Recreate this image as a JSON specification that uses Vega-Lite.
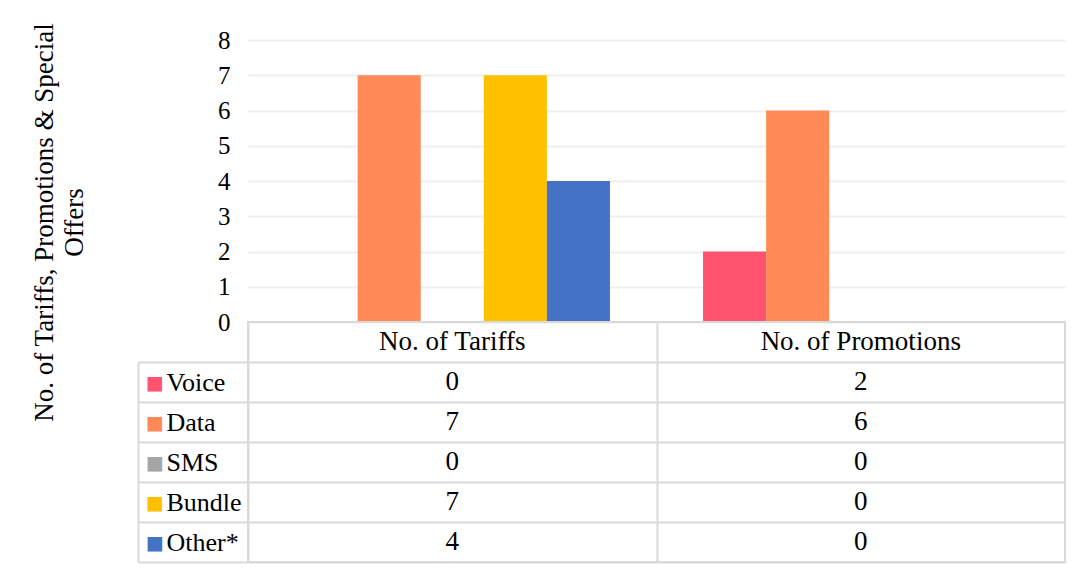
{
  "$schema": "https://vega.github.io/schema/vega-lite/v6.json",
  "padding": {"left": 29, "top": 22, "right": 5, "bottom": 5},
  "spacing": 0,
  "bounds": "flush",
  "config": {
    "view": {"stroke": "#d9d9d9", "strokeWidth": 2},
    "font": "Liberation Serif, DejaVu Serif, serif",
    "text": {"font": "Liberation Serif, DejaVu Serif, serif"}
  },
  "datasets": {
    "t": [
      {"metric": "No. of Tariffs", "series": "Voice", "value": 0},
      {"metric": "No. of Tariffs", "series": "Data", "value": 7},
      {"metric": "No. of Tariffs", "series": "SMS", "value": 0},
      {"metric": "No. of Tariffs", "series": "Bundle", "value": 7},
      {"metric": "No. of Tariffs", "series": "Other*", "value": 4},
      {"metric": "No. of Promotions", "series": "Voice", "value": 2},
      {"metric": "No. of Promotions", "series": "Data", "value": 6},
      {"metric": "No. of Promotions", "series": "SMS", "value": 0},
      {"metric": "No. of Promotions", "series": "Bundle", "value": 0},
      {"metric": "No. of Promotions", "series": "Other*", "value": 0}
    ]
  },
  "vconcat": [
    {
      "width": 817,
      "height": 282,
      "view": {"stroke": null},
      "data": {"name": "t"},
      "mark": {"type": "bar"},
      "encoding": {
        "x": {"field": "metric", "type": "nominal", "scale": {"domain": ["No. of Tariffs", "No. of Promotions"], "paddingInner": 0, "paddingOuter": 0}, "axis": null},
        "xOffset": {"field": "series", "type": "nominal", "scale": {"domain": ["Voice", "Data", "SMS", "Bundle", "Other*"], "paddingInner": 0, "paddingOuter": 0.738}},
        "y": {
          "field": "value", "type": "quantitative",
          "scale": {"domain": [0, 8], "nice": false},
          "axis": {
            "values": [0, 1, 2, 3, 4, 5, 6, 7, 8],
            "grid": true, "gridColor": "#efefef", "gridWidth": 2,
            "domain": false, "ticks": false,
            "labelFont": "Liberation Serif, DejaVu Serif, serif", "labelFontSize": 25, "labelColor": "#000000", "labelPadding": 18,
            "title": ["No. of Tariffs, Promotions & Special", "Offers"],
            "titleFont": "Liberation Serif, DejaVu Serif, serif", "titleFontSize": 27, "titleFontWeight": "normal", "titleColor": "#000000",
            "titleX": -196, "titleY": 182, "titleBaseline": "alphabetic", "titleLineHeight": 30
          }
        },
        "color": {"field": "series", "type": "nominal", "scale": {"domain": ["Voice", "Data", "SMS", "Bundle", "Other*"], "range": ["#FF5470", "#FF8A57", "#A5A5A5", "#FFC000", "#4472C4"]}, "legend": null}
      }
    },
    {
      "width": 817,
      "height": 240,
      "data": {"name": "t"},
      "encoding": {
        "x": {"field": "metric", "type": "nominal", "scale": {"domain": ["No. of Tariffs", "No. of Promotions"], "paddingInner": 0, "paddingOuter": 0},
          "axis": {"grid": true, "tickOffset": -204, "gridColor": "#d9d9d9", "gridWidth": 2, "labels": false, "ticks": false, "domain": false, "title": null}}
      },
      "layer": [
        {
          "mark": {"type": "text", "fontSize": 27, "font": "Liberation Serif, DejaVu Serif, serif", "color": "#000000"},
          "encoding": {
            "y": {"field": "series", "type": "nominal", "scale": {"domain": ["hdr", "Voice", "Data", "SMS", "Bundle", "Other*"], "paddingInner": 0, "paddingOuter": 0},
              "axis": {"orient": "left", "title": null, "ticks": false, "tickSize": 0, "domain": false, "grid": false,
                "labelExpr": "datum.value === 'hdr' ? '' : datum.value", "labelAlign": "left", "labelPadding": 82,
                "labelFont": "Liberation Serif, DejaVu Serif, serif", "labelFontSize": 26, "labelColor": "#000000", "labelBaseline": "middle"}},
            "text": {"field": "value", "type": "quantitative"}
          }
        },
        {
          "mark": {"type": "text", "fontSize": 25},
          "encoding": {
            "y": {"field": "series", "type": "nominal", "scale": {"domain": ["hdr", "Voice", "Data", "SMS", "Bundle", "Other*"], "paddingInner": 0, "paddingOuter": 0},
              "axis": {"orient": "left", "title": null, "ticks": false, "tickSize": 0, "domain": false, "grid": false,
                "labelExpr": "datum.value === 'hdr' ? '' : '■'", "labelAlign": "center", "labelPadding": 93.5,
                "labelFont": "DejaVu Sans", "labelFontSize": 19, "labelBaseline": "middle",
                "labelColor": {"condition": [
                  {"test": "datum.value === 'Voice'", "value": "#FF5470"},
                  {"test": "datum.value === 'Data'", "value": "#FF8A57"},
                  {"test": "datum.value === 'SMS'", "value": "#A5A5A5"},
                  {"test": "datum.value === 'Bundle'", "value": "#FFC000"}
                ], "value": "#4472C4"}}},
            "text": {"value": ""}
          }
        },
        {
          "mark": {"type": "text", "fontSize": 25},
          "encoding": {
            "y": {"field": "series", "type": "nominal", "scale": {"domain": ["hdr", "Voice", "Data", "SMS", "Bundle", "Other*"], "paddingInner": 0, "paddingOuter": 0},
              "axis": {"orient": "left", "title": null, "tickOffset": 20, "ticks": true, "tickSize": 110, "tickColor": "#d9d9d9", "tickWidth": 2,
                "grid": true, "gridColor": "#d9d9d9", "gridWidth": 2, "labels": false, "domain": false}},
            "text": {"value": ""}
          }
        },
        {
          "mark": {"type": "text", "fontSize": 25},
          "encoding": {
            "y": {"field": "series", "type": "nominal", "scale": {"domain": ["hdr", "Voice", "Data", "SMS", "Bundle", "Other*"], "paddingInner": 0, "paddingOuter": 0},
              "axis": {"orient": "left", "title": null, "offset": 110, "ticks": false, "labels": false, "grid": false,
                "domain": true, "domainColor": "#d9d9d9", "domainWidth": 2, "domainDash": [0, 40, 200]}},
            "text": {"value": ""}
          }
        },
        {
          "transform": [{"filter": "datum.series === 'Voice'"}],
          "mark": {"type": "text", "fontSize": 27, "font": "Liberation Serif, DejaVu Serif, serif", "color": "#000000"},
          "encoding": {
            "y": {"datum": "hdr", "type": "nominal", "axis": null},
            "text": {"field": "metric", "type": "nominal"}
          }
        }
      ],
      "resolve": {"axis": {"y": "independent"}}
    }
  ]
}
